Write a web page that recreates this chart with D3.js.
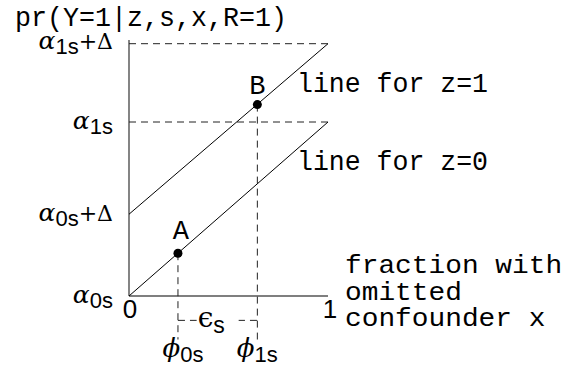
<!DOCTYPE html>
<html>
<head>
<meta charset="utf-8">
<script src="https://cdnjs.cloudflare.com/ajax/libs/d3/7.8.5/d3.min.js"></script>
<style>
  html, body { margin: 0; padding: 0; background: #fff; }
  svg { display: block; }
  .mono { font-family: 'Liberation Mono', 'Courier New', monospace; fill: #000; }
  .greek { font-family: 'DejaVu Serif', 'Liberation Serif', serif; font-style: italic; fill: #000; }
  .sub { font-family: 'Liberation Sans', Arial, sans-serif; font-style: normal; fill: #000; }
</style>
</head>
<body>
<div id="chart"></div>
<script>
// valeurs
const xDomain = [0, 1];
const xTickValues = [0, 1];
const xTickLabels = ['0', '1'];

// alpha0s, alpha0s+Delta, alpha1s, alpha1s+Delta
const yTickValues = [0, 0.47, 1, 1.45];
const yTickMain = ['α', 'α', 'α', 'α'];
const yTickSub = ['0s', '0s', '1s', '1s'];
const yTickTail = ['', '+Δ', '', '+Δ'];

const lineZ0 = [[0, 0], [1, 1]];
const lineZ1 = [[0, 0.47], [1, 1.45]];
const lineLabels = ['line for z=1', 'line for z=0'];

const pointNames = ['A', 'B'];
const pointX = [0.246, 0.645];
const pointY = [0.246, 1.10];

const dashedLevels = [1, 1.45];     // guides horizontaux
const dropBottom = -0.25;           // bas des guides verticaux
const epsLevel = -0.14;             // accolade epsilon

const axisLabelLines = ['fraction with', 'omitted', 'confounder x'];
const title = 'pr(Y=1|z,s,x,R=1)';

const W = 569, H = 367;

const svg = d3.select('#chart').append('svg')
  .attr('width', W)
  .attr('height', H);

const x = d3.scaleLinear().domain(xDomain).range([129, 328]);
const y = d3.scaleLinear().domain([0, 1]).range([296, 122]);

const line = d3.line().x(d => x(d[0])).y(d => y(d[1]));

// axes
svg.append('line')
  .attr('x1', x(0)).attr('x2', x(0))
  .attr('y1', 40).attr('y2', y(0))
  .attr('stroke', '#333').attr('stroke-width', 1.2);
svg.append('line')
  .attr('x1', x(0)).attr('x2', x(1))
  .attr('y1', y(0)).attr('y2', y(0))
  .attr('stroke', '#555').attr('stroke-width', 1.4);

// guides en pointillés
const dash = '7,5';
svg.append('g').selectAll('line')
  .data(dashedLevels).join('line')
  .attr('x1', x(0)).attr('x2', x(1))
  .attr('y1', d => y(d)).attr('y2', d => y(d))
  .attr('stroke', '#222').attr('stroke-width', 1)
  .attr('stroke-dasharray', dash);

svg.append('g').selectAll('line')
  .data(pointX).join('line')
  .attr('x1', d => x(d)).attr('x2', d => x(d))
  .attr('y1', (d, i) => y(pointY[i])).attr('y2', y(dropBottom))
  .attr('stroke', '#222').attr('stroke-width', 1)
  .attr('stroke-dasharray', dash);

// accolade epsilon
svg.append('line')
  .attr('x1', x(pointX[0])).attr('x2', x(pointX[1]))
  .attr('y1', y(epsLevel)).attr('y2', y(epsLevel))
  .attr('stroke', '#222').attr('stroke-width', 1)
  .attr('stroke-dasharray', dash);
const epsMid = (x(pointX[0]) + x(pointX[1])) / 2;
svg.append('rect')
  .attr('x', epsMid - 21).attr('y', y(epsLevel) - 9)
  .attr('width', 42).attr('height', 22)
  .attr('fill', '#fff');
const eps = svg.append('text').attr('x', epsMid - 20).attr('y', y(epsLevel) + 7)
  .attr('class', 'greek').style('font-size', '28px').style('font-style', 'normal');
eps.append('tspan').text('ϵ');
eps.append('tspan').attr('class', 'sub').attr('dy', 6).style('font-size', '23px').text('s');

// les deux droites
svg.append('path').datum(lineZ0).attr('d', line)
  .attr('fill', 'none').attr('stroke', '#000').attr('stroke-width', 1);
svg.append('path').datum(lineZ1).attr('d', line)
  .attr('fill', 'none').attr('stroke', '#000').attr('stroke-width', 1);

// étiquettes des droites
svg.append('g').selectAll('text')
  .data(lineLabels).join('text')
  .attr('class', 'mono')
  .attr('x', 297)
  .attr('y', (d, i) => i === 0 ? 92 : 170)
  .attr('textLength', 191).attr('lengthAdjust', 'spacingAndGlyphs')
  .style('font-size', '27px')
  .text(d => d);

// points
svg.append('g').selectAll('circle')
  .data(pointX).join('circle')
  .attr('cx', d => x(d)).attr('cy', (d, i) => y(pointY[i]))
  .attr('r', 4.5).attr('fill', '#000');
svg.append('g').selectAll('text')
  .data(pointNames).join('text')
  .attr('class', 'mono')
  .attr('x', (d, i) => x(pointX[i]) + (i === 0 ? 3 : 0))
  .attr('y', (d, i) => y(pointY[i]) - (i === 0 ? 14 : 11))
  .attr('text-anchor', 'middle')
  .style('font-size', '27px')
  .text(d => d);

// étiquettes de l'axe y
const yl = svg.append('g').selectAll('text')
  .data(yTickValues).join('text')
  .attr('class', 'greek')
  .attr('x', 113)
  .attr('y', (d, i) => y(d) + (i === 3 ? 5 : 7))
  .attr('text-anchor', 'end')
  .style('font-size', '25px');
yl.append('tspan').text((d, i) => yTickMain[i]);
yl.append('tspan').attr('class', 'sub').attr('dy', 5).style('font-size', '22px')
  .text((d, i) => yTickSub[i]);
yl.append('tspan').attr('dy', -5).style('font-style', 'normal').style('font-size', '22px')
  .text((d, i) => yTickTail[i]);

// étiquettes de l'axe x
svg.append('g').selectAll('text')
  .data(xTickValues).join('text')
  .attr('class', 'sub')
  .attr('x', d => x(d) + (d === 1 ? 2 : 1))
  .attr('y', 318)
  .attr('text-anchor', 'middle')
  .style('font-size', '26px')
  .text((d, i) => xTickLabels[i]);

// phi sous les guides
const phiSub = ['0s', '1s'];
const phi = svg.append('g').selectAll('text')
  .data(pointX).join('text')
  .attr('class', 'greek')
  .attr('x', (d, i) => x(d) + (i === 0 ? 5 : 0))
  .attr('y', 357)
  .attr('text-anchor', 'middle')
  .style('font-size', '26px');
phi.append('tspan').text('ϕ');
phi.append('tspan').attr('class', 'sub').attr('dy', 5).style('font-size', '22px')
  .text((d, i) => phiSub[i]);

// titre de l'axe x
svg.append('g').selectAll('text')
  .data(axisLabelLines).join('text')
  .attr('class', 'mono')
  .attr('x', 345)
  .attr('y', (d, i) => 273 + i * 26.5)
  .attr('textLength', d => d.length * 16.7).attr('lengthAdjust', 'spacingAndGlyphs')
  .style('font-size', '25px')
  .text(d => d);

// titre de l'axe y
svg.append('text')
  .attr('class', 'mono')
  .attr('x', 15).attr('y', 26)
  .attr('textLength', 272).attr('lengthAdjust', 'spacingAndGlyphs')
  .style('font-size', '27px')
  .text(title);
</script>
</body>
</html>
